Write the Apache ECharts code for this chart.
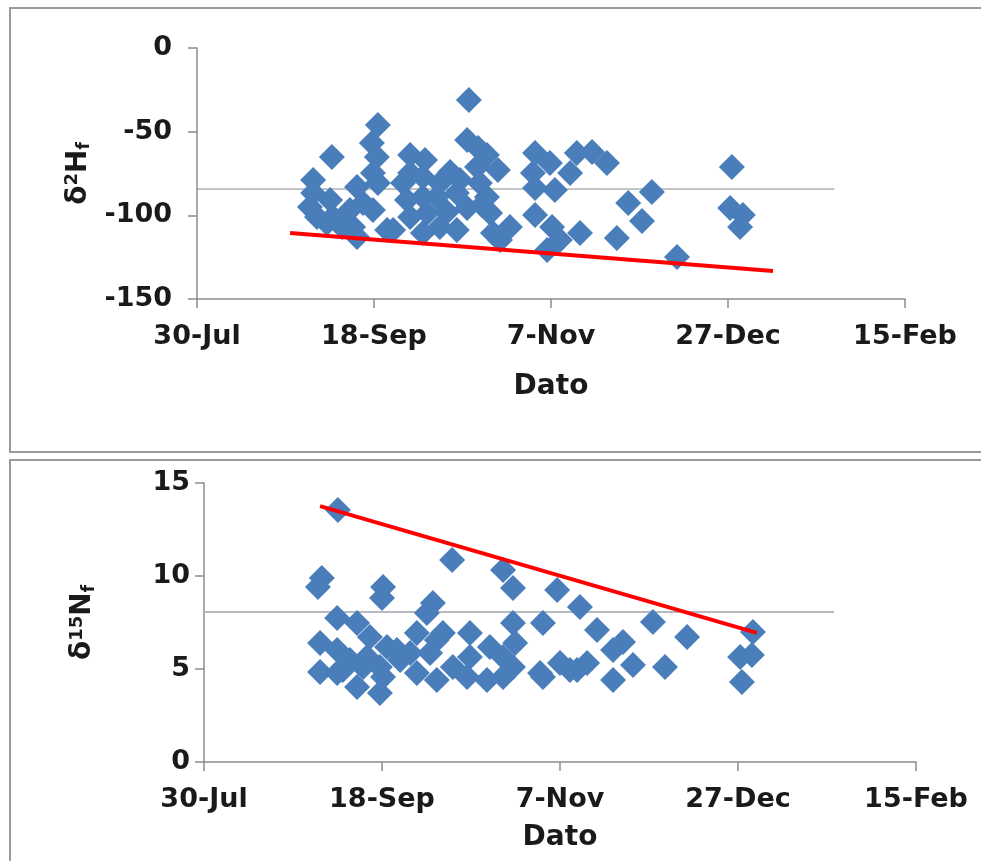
<!DOCTYPE html>
<html><head><meta charset="utf-8">
<script src="https://cdn.jsdelivr.net/npm/echarts@6/dist/echarts.min.js"></script>
<style>html,body{margin:0;padding:0;background:#fff}#c{width:981px;height:861px}</style>
</head><body><div id="c"></div>
<script>
// x values are days after 30-Jul
const xTickLabels = ['30-Jul', '18-Sep', '7-Nov', '27-Dec', '15-Feb'];

const hDays = [32.8, 32.8, 31.9, 33.9, 36.7, 37.6, 38.1, 38.4, 41.0, 43.2, 44.1, 45.2, 45.2, 46.9, 49.4, 49.7, 49.7, 50.8, 51.1, 51.1,
  53.7, 55.4, 58.2, 59.3, 60.2, 60.2, 60.2, 63.8, 63.8, 63.8, 64.4, 65.0, 67.8, 68.6, 68.6, 70.6, 71.5, 73.4, 73.4, 74.3,
  76.3, 76.3, 76.8, 79.1, 79.4, 79.9, 81.9, 81.9, 80.5, 82.8, 83.6, 85.0, 85.6, 88.4, 94.9, 95.5, 95.5, 95.5, 98.9, 99.7,
  100.3, 101.1, 102.5, 105.4, 107.3, 108.2, 111.6, 115.8, 118.6, 121.8, 125.7, 128.5, 135.6, 151.1, 150.6, 154.2, 153.4];
const hValues = [-78.9, -86.6, -95.0, -101.0, -104.6, -90.8, -65.1, -101.0, -107.0, -96.8, -107.0, -83.1, -112.9, -92.6, -56.8, -74.7, -96.8, -65.1, -46.0, -80.7,
  -108.8, -108.8, -80.7, -90.8, -63.9, -74.7, -101.0, -77.1, -89.0, -110.6, -66.9, -98.6, -89.0, -80.7, -107.0, -98.0, -74.1, -86.7, -108.8, -78.9,
  -55.0, -95.6, -31.1, -71.1, -59.8, -80.7, -63.9, -89.0, -93.8, -98.6, -110.6, -72.9, -114.7, -107.0, -74.7, -62.7, -83.7, -99.8, -120.7, -68.7,
  -107.0, -84.9, -114.7, -74.7, -62.7, -110.6, -62.2, -68.7, -113.5, -92.6, -103.4, -86.1, -124.9, -71.1, -95.6, -99.8, -107.0];
const hMeanDays = [0, 180];
const hMeanValues = [-84.3, -84.3];
const hTrendDays = [26.3, 162.7];
const hTrendValues = [-110.6, -133.3];

const nDays = [37.6, 33.1, 32.0, 50.3, 50.0, 37.4, 32.6, 32.6, 37.4, 37.4, 43.0, 46.6, 45.8, 41.0, 39.0, 43.0, 51.4, 49.4, 50.3, 49.4,
  54.2, 55.1, 44.7, 69.7, 64.3, 62.6, 59.8, 57.9, 63.5, 65.4, 67.1, 59.8, 65.4, 69.9, 74.7, 74.7, 73.9, 80.3, 79.5, 84.0,
  86.8, 84.0, 86.8, 87.4, 86.8, 84.0, 95.2, 95.2, 99.2, 100.0, 105.6, 104.8, 107.6, 110.4, 94.4, 102.8, 114.9, 114.9, 117.7, 120.5,
  126.1, 129.5, 135.7, 150.6, 153.9, 151.1, 154.2];
const nValues = [13.55, 9.89, 9.41, 9.41, 8.82, 7.74, 6.40, 4.84, 6.02, 4.78, 7.47, 6.72, 5.65, 5.48, 4.95, 4.03, 6.18, 5.11, 4.57, 3.71,
  6.02, 5.48, 5.11, 10.86, 8.55, 8.01, 6.94, 5.86, 5.86, 6.56, 6.94, 4.78, 4.41, 5.11, 6.94, 5.65, 4.57, 6.18, 4.41, 10.32,
  9.35, 5.65, 7.47, 6.40, 5.11, 4.57, 7.47, 4.57, 9.25, 5.32, 8.33, 4.95, 5.32, 7.10, 4.78, 4.95, 6.02, 4.41, 6.45, 5.22,
  7.53, 5.11, 6.72, 5.65, 5.75, 4.30, 6.99];
const nMeanDays = [0, 177];
const nMeanValues = [8.06, 8.06];
const nTrendDays = [32.6, 155.3];
const nTrendValues = [13.76, 6.94];

const zip = (a, b) => a.map((v, i) => [v, b[i]]);

const FONT = 'DejaVu Sans';
const axisColor = '#8c8c8c';
const textColor = '#1a1a1a';
const labelStyle = { fontFamily: FONT, fontWeight: 'bold', fontSize: 27, color: textColor };

function xAxisFor(gi, nameGap) {
  return {
    type: 'value', gridIndex: gi, min: 0, max: 200, interval: 50,
    axisLine: { show: true, onZero: false, lineStyle: { color: axisColor, width: 1.5 } },
    axisTick: { show: true, inside: false, length: 9, lineStyle: { color: axisColor, width: 1.5 } },
    splitLine: { show: false },
    axisLabel: Object.assign({ margin: 24, formatter: v => xTickLabels[Math.round(v / 50)] }, labelStyle),
    name: 'Dato', nameLocation: 'middle', nameGap: nameGap,
    nameTextStyle: { fontFamily: FONT, fontWeight: 'bold', fontSize: 28, color: textColor }
  };
}

function nameStyle() {
  return {
    fontFamily: FONT, fontWeight: 'bold', fontSize: 28, color: textColor,
    rich: {
      sup: { fontFamily: FONT, fontWeight: 'bold', fontSize: 18, verticalAlign: 'top', padding: [0, 0, 12, 0], color: textColor },
      sub: { fontFamily: FONT, fontWeight: 'bold', fontSize: 17, verticalAlign: 'bottom', padding: [12, 0, 0, 0], color: textColor }
    }
  };
}

function yAxisFor(gi, min, max, interval, name, margin, nameGap) {
  return {
    type: 'value', gridIndex: gi, min: min, max: max, interval: interval,
    axisLine: { show: true, lineStyle: { color: axisColor, width: 1.5 } },
    axisTick: { show: true, length: 9, lineStyle: { color: axisColor, width: 1.5 } },
    splitLine: { show: false },
    axisLabel: Object.assign({ margin: margin }, labelStyle),
    name: name, nameLocation: 'middle', nameGap: nameGap, nameRotate: 90,
    nameTextStyle: nameStyle()
  };
}

const chart = echarts.init(document.getElementById('c'), null, { renderer: 'canvas' });
chart.setOption({
  animation: false,
  backgroundColor: '#ffffff',
  graphic: [
    { type: 'rect', shape: { x: 10, y: 8, width: 990, height: 444 }, style: { fill: 'none', stroke: '#9a9a9a', lineWidth: 2 }, z: -10 },
    { type: 'rect', shape: { x: 10, y: 460, width: 990, height: 420 }, style: { fill: 'none', stroke: '#9a9a9a', lineWidth: 2 }, z: -10 }
  ],
  grid: [
    { left: 197, top: 48, right: 76, bottom: 562 },
    { left: 204, top: 483, right: 65, bottom: 99 }
  ],
  xAxis: [xAxisFor(0, 74), xAxisFor(1, 62)],
  yAxis: [
    yAxisFor(0, -150, 0, 50, 'δ{sup|2}H{sub|f}', 25, 98),
    yAxisFor(1, 0, 15, 5, 'δ{sup|15}N{sub|f}', 14, 106)
  ],
  series: [
    { type: 'line', xAxisIndex: 0, yAxisIndex: 0, data: zip(hMeanDays, hMeanValues), symbol: 'none', lineStyle: { color: '#8a8a8a', width: 1 }, z: 1, silent: true },
    { type: 'scatter', xAxisIndex: 0, yAxisIndex: 0, data: zip(hDays, hValues), symbol: 'diamond', symbolSize: 26, itemStyle: { color: '#4a7ebb', opacity: 1 }, z: 2 },
    { type: 'line', xAxisIndex: 0, yAxisIndex: 0, data: zip(hTrendDays, hTrendValues), symbol: 'none', lineStyle: { color: '#ff0000', width: 4 }, z: 3, silent: true },
    { type: 'line', xAxisIndex: 1, yAxisIndex: 1, data: zip(nMeanDays, nMeanValues), symbol: 'none', lineStyle: { color: '#b8b8c0', width: 2 }, z: 1, silent: true },
    { type: 'scatter', xAxisIndex: 1, yAxisIndex: 1, data: zip(nDays, nValues), symbol: 'diamond', symbolSize: 26, itemStyle: { color: '#4a7ebb', opacity: 1 }, z: 2 },
    { type: 'line', xAxisIndex: 1, yAxisIndex: 1, data: zip(nTrendDays, nTrendValues), symbol: 'none', lineStyle: { color: '#ff0000', width: 4 }, z: 3, silent: true }
  ]
});
</script></body></html>
